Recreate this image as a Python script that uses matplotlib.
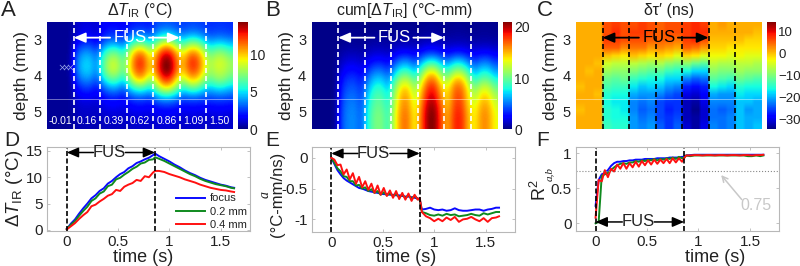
import matplotlib
matplotlib.use('Agg')
import matplotlib.pyplot as plt
import numpy as np

plt.rcParams['font.family'] = ['Liberation Sans', 'DejaVu Sans']
plt.rcParams['mathtext.fontset'] = 'custom'
plt.rcParams['mathtext.rm'] = 'Liberation Sans'
plt.rcParams['mathtext.it'] = 'Liberation Sans:italic'
plt.rcParams['mathtext.default'] = 'rm'

W, H = 800, 266
DARK = '#222222'
EDGE = '#b8b8b8'

# frame times printed on panel A
frame_labels = ['-0.01', '0.16', '0.39', '0.62', '0.86', '1.09', '1.50']

# panel A, one row per depth, one value per frame (edge of frame / centre of frame)
a_edge = [
    [.3, 1.0, 1.6, 2.0, 2.8, 2.6, 2.4],
    [.3, 1.1, 2.1, 3.0, 4.0, 3.4, 2.8],
    [.3, 1.8, 3.2, 5.5, 7.0, 6.0, 4.5],
    [.3, 3.0, 5.5, 8.5, 10.5, 9.0, 6.5],
    [.3, 3.6, 6.5, 9.5, 11.5, 10.0, 7.8],
    [.3, 3.6, 6.5, 9.5, 11.5, 9.8, 7.6],
    [.3, 2.8, 5.0, 7.5, 9.5, 8.0, 6.5],
    [.3, 1.8, 3.0, 4.8, 7.0, 5.2, 4.4],
    [.3, 1.2, 1.8, 2.6, 3.8, 2.9, 2.8],
    [.3, .9, 1.3, 1.6, 2.0, 1.7, 1.7],
    [.3, .8, 1.0, 1.1, 1.3, 1.1, 1.1],
    [.3, .6, .8, .9, 1.0, .9, .9],
]
a_centre = [
    [.3, 1.2, 1.8, 2.2, 3.0, 2.8, 2.5],
    [.3, 1.5, 2.5, 3.5, 5.0, 4.0, 3.0],
    [.3, 2.5, 4.0, 7.0, 9.0, 7.5, 5.0],
    [.3, 4.0, 7.0, 11.0, 13.0, 11.0, 7.5],
    [.3, 4.8, 8.5, 12.5, 14.5, 12.5, 8.8],
    [.3, 4.8, 8.5, 12.0, 14.5, 12.0, 8.5],
    [.3, 3.8, 6.5, 10.0, 12.5, 10.0, 7.5],
    [.3, 2.5, 4.0, 6.0, 9.0, 6.5, 5.0],
    [.3, 1.5, 2.2, 3.0, 4.5, 3.2, 3.0],
    [.3, 1.0, 1.5, 1.8, 2.2, 1.8, 1.8],
    [.3, .9, 1.1, 1.2, 1.4, 1.2, 1.2],
    [.3, .7, .8, 1.0, 1.1, 1.0, 1.0],
]

# panel B
b_edge = [
    [.2, .2, .2, .3, .3, .3, .3],
    [.2, .3, .3, .4, .5, .5, .4],
    [.2, .4, .7, .9, 1.2, 1.1, .9],
    [.2, .8, 1.2, 1.9, 2.8, 2.4, 2.0],
    [.2, 1.4, 2.3, 4.0, 6.0, 5.2, 3.8],
    [.2, 2.1, 3.8, 6.5, 9.5, 8.5, 5.8],
    [.2, 2.9, 5.3, 9.0, 12.5, 11.5, 8.0],
    [.2, 3.5, 6.6, 11.0, 14.5, 13.5, 10.3],
    [.2, 3.9, 7.4, 12.0, 15.5, 14.0, 11.8],
    [.2, 4.2, 8.0, 12.5, 16.5, 14.5, 12.8],
    [.2, 4.4, 8.4, 13.0, 17.0, 15.0, 13.3],
    [.2, 4.4, 8.4, 13.0, 17.0, 15.0, 13.3],
]
b_centre = [
    [.2, .2, .2, .3, .4, .4, .4],
    [.2, .3, .4, .5, .6, .6, .5],
    [.2, .5, .8, 1.0, 1.5, 1.2, 1.0],
    [.2, 1.0, 1.5, 2.5, 3.5, 3.0, 2.5],
    [.2, 1.8, 3.0, 5.5, 8.0, 7.0, 5.0],
    [.2, 2.8, 5.0, 8.5, 13.0, 11.0, 7.5],
    [.2, 3.8, 7.0, 12.0, 16.5, 15.0, 10.0],
    [.2, 4.5, 8.5, 14.5, 18.5, 17.0, 13.0],
    [.2, 5.0, 9.5, 15.5, 19.5, 17.5, 14.5],
    [.2, 5.3, 10.0, 16.0, 20.5, 18.0, 15.5],
    [.2, 5.5, 10.5, 16.5, 21.0, 18.5, 16.0],
    [.2, 5.5, 10.5, 16.5, 21.0, 18.5, 16.0],
]

# panel C, three values per frame
c_map = [
    [1, 1, 1, 6, 7, 6, 6, 7, 6, 5, 6, 6, 7, 8, 7, 1, 2, 1, 1, 1, 1],
    [1, 1, 1, 6, 8, 6, 7, 7, 6, 5, 6, 6, 7, 8, 8, 1, 1, 1, 1, 1, 0],
    [1, 1, 1, 7, 7, 6, 6, 6, 5, 5, 5, 4, 7, 8, 6, 0, 0, 0, 0, -1, -1],
    [1, 1, 1, 5, 5, 3, 4, 4, 2, 3, 2, 1, 5, 4, 2, -1, -1, -2, -2, -2, -2],
    [1, 1, 1, 0, -1, -2, 0, -1, -2, -1, -2, -4, -1, -2, -4, -3, -3, -4, -3, -4, -4],
    [1, 1, 0, -5, -6, -6, -6, -7, -8, -7, -9, -10, -9, -11, -12, -6, -7, -7, -6, -6, -7],
    [1, 0, 1, -8, -9, -9, -10, -11, -12, -12, -14, -15, -16, -18, -18, -9, -10, -10, -8, -9, -9],
    [1, 1, 1, -11, -12, -11, -14, -15, -16, -16, -18, -18, -22, -24, -23, -12, -13, -14, -11, -12, -13],
    [0, 1, 1, -13, -14, -14, -17, -19, -18, -19, -21, -22, -27, -28, -27, -16, -17, -18, -15, -16, -16],
    [1, 1, 0, -15, -16, -16, -20, -21, -21, -22, -24, -25, -30, -31, -29, -20, -21, -21, -17, -18, -18],
    [1, 1, 1, -16, -17, -17, -22, -23, -22, -25, -26, -26, -32, -33, -30, -22, -22, -22, -19, -19, -20],
    [0, 1, 1, -15, -16, -17, -22, -24, -23, -25, -27, -26, -32, -34, -31, -23, -24, -23, -19, -21, -20],
    [1, 1, 1, -15, -16, -16, -21, -23, -22, -25, -26, -25, -32, -33, -31, -23, -23, -22, -19, -20, -20],
    [1, 1, 1, -14, -15, -15, -21, -22, -21, -24, -26, -24, -31, -33, -30, -22, -23, -22, -19, -20, -19],
]

# panel D
t_d = [0, .04, .08, .12, .16, .2, .24, .28, .32, .36, .4, .44, .48, .52, .56, .6, .64, .68, .72, .76, .8, .84,
       .86, .9, .95, 1, 1.05, 1.1, 1.15, 1.2, 1.25, 1.3, 1.35, 1.4, 1.45, 1.5, 1.55, 1.6, 1.63]
d_focus = [.2, 1.2, 2.0, 3.1, 4.1, 5.0, 6.0, 6.6, 7.4, 7.9, 8.8, 9.3, 10.0, 10.6, 11.0, 11.7, 12.1, 12.7, 13.0, 13.4, 13.7, 14.2,
           14.5, 14.0, 13.5, 13.0, 12.4, 11.9, 11.3, 10.8, 10.4, 9.9, 9.5, 9.2, 8.9, 8.6, 8.4, 8.1, 8.0]
d_02 = [.2, 1.0, 1.7, 2.7, 3.6, 4.4, 5.5, 6.0, 6.9, 7.3, 8.3, 8.6, 9.6, 9.9, 10.5, 11.0, 11.6, 12.0, 12.6, 12.8, 13.3, 13.4,
        13.8, 13.5, 13.1, 12.6, 12.1, 11.6, 11.1, 10.6, 10.2, 9.7, 9.3, 9.0, 8.7, 8.5, 8.3, 8.0, 7.9]
d_04 = [.1, .7, 1.3, 2.1, 2.8, 3.4, 4.5, 4.8, 5.4, 5.9, 6.5, 6.8, 7.6, 7.4, 8.2, 8.6, 8.9, 9.5, 9.3, 10.2, 10.0, 10.9,
        11.2, 11.2, 11.0, 10.6, 10.3, 10.0, 9.6, 9.3, 9.0, 8.6, 8.3, 8.0, 7.8, 7.6, 7.5, 7.3, 7.2]

# panels E and F share their time points
t_e = [0, .03, .06, .09, .12, .15, .18, .21, .24, .27, .3, .33, .36, .39, .42, .45, .48, .51, .54, .57, .6, .63, .66, .69,
       .72, .75, .78, .81, .84, .86, .88, .92, .96, 1, 1.04, 1.08, 1.12, 1.16, 1.2, 1.24, 1.28, 1.32, 1.36, 1.4, 1.44,
       1.48, 1.52, 1.56, 1.6, 1.63]
e_focus = [0, -.1, -.2, -.27, -.33, -.37, -.4, -.43, -.46, -.49, -.5, -.52, -.54, -.55, -.56, -.57, -.58, -.59, -.59, -.6,
           -.6, -.61, -.61, -.62, -.63, -.63, -.64, -.65, -.66, -.68,
           -.84, -.83, -.81, -.84, -.85, -.84, -.86, -.85, -.82, -.85, -.86, -.86, -.85, -.84, -.84, -.86, -.84, -.83, -.81, -.81]
e_02 = [0, -.08, -.17, -.22, -.3, -.31, -.38, -.38, -.45, -.44, -.5, -.48, -.54, -.51, -.57, -.54, -.6, -.56, -.61, -.58,
        -.62, -.59, -.64, -.6, -.65, -.61, -.66, -.62, -.67, -.68,
        -.88, -.9, -.93, -.94, -.92, -.94, -.91, -.93, -.92, -.95, -.94, -.93, -.91, -.93, -.94, -.9, -.92, -.9, -.88, -.88]
e_04 = [0, -.03, -.12, -.11, -.27, -.19, -.35, -.25, -.42, -.31, -.48, -.38, -.52, -.42, -.57, -.45, -.6, -.49, -.62, -.53,
        -.65, -.54, -.67, -.57, -.68, -.58, -.7, -.6, -.68, -.65,
        -.88, -.95, -.98, -1.03, -.99, -1.03, -.97, -1.01, -.96, -1.04, -1.0, -.99, -.96, -1.0, -1.03, -.98, -1.04, -.98, -.97, -.95]
f_focus = [.25, .62, .7, .72, .76, .82, .86, .88, .88, .89, .89, .9, .9, .91, .91, .91, .92, .92, .92, .92, .93, .93, .93, .93,
           .94, .94, .94, .94, .95, .95,
           .97, .975, .98, .98, .98, .98, .98, .98, .98, .98, .98, .98, .98, .98, .98, .98, .98, .98, .98, .98]
f_02 = [0, .02, .68, .7, .72, .76, .8, .83, .85, .86, .85, .87, .87, .89, .88, .9, .89, .91, .9, .92, .9, .92, .91, .93,
        .92, .94, .92, .95, .93, .94,
        .97, .96, .97, .97, .97, .97, .97, .97, .97, .97, .97, .97, .97, .97, .97, .96, .96, .97, .96, .97]
f_04 = [.08, .62, .6, .76, .66, .78, .74, .84, .78, .86, .78, .86, .8, .88, .81, .89, .83, .9, .84, .91, .85, .91, .86, .92,
        .86, .93, .87, .93, .88, .93,
        .97, .97, .975, .975, .97, .975, .975, .97, .975, .975, .97, .975, .975, .97, .975, .975, .97, .975, .975, .98]

fus_end = .86
legend_labels = ['focus', '0.2 mm', '0.4 mm']
line_colors = ['#0a0aff', '#0f8a1e', '#ff1010']
head = '-|>,head_width=.3,head_length=.7'


def px_axes(x0, y0, x1, y1):
    return fig.add_axes([x0 / W, 1 - y1 / H, (x1 - x0) / W, (y1 - y0) / H])


def frames(edge, centre):
    edge = np.array(edge)
    centre = np.array(centre)
    return np.stack([edge, centre, centre, edge], axis=2).reshape(len(edge), -1)


def heat_panel(box, cbox, data, vmin, vmax, cticks, dash, title, letter, lx, interp='bicubic', csize=10):
    ax = px_axes(*box)
    im = ax.imshow(data, cmap='jet', vmin=vmin, vmax=vmax, aspect='auto', extent=[0, 7, 5.49, 2.52], interpolation=interp)
    for k in range(1, 7):
        ax.axvline(k, color=dash, lw=1.2, ls=(0, (3, 1.8)))
    ax.axhline(4.65, color='white', lw=.5, alpha=.6)
    ax.set_xticks([])
    ax.set_yticks([3, 4, 5])
    ax.tick_params(length=0, labelsize=10.5, pad=4, labelcolor=DARK)
    ax.set_ylabel('depth (mm)', fontsize=12.5, color=DARK, labelpad=3)
    for s in ax.spines.values():
        s.set_visible(False)
    ax.annotate('', xy=(1, 2.96), xytext=(2.37, 2.96), arrowprops=dict(arrowstyle=head, color=dash, lw=1.3, shrinkA=0, shrinkB=0))
    ax.annotate('', xy=(5, 2.96), xytext=(3.84, 2.96), arrowprops=dict(arrowstyle=head, color=dash, lw=1.3, shrinkA=0, shrinkB=0))
    ax.text(3.12, 2.96, 'FUS', color=dash, fontsize=12, ha='center', va='center')
    cax = px_axes(*cbox)
    cb = fig.colorbar(im, cax=cax)
    cb.set_ticks(cticks)
    cb.outline.set_visible(False)
    cax.tick_params(length=0, labelsize=csize, pad=1.5, labelcolor=DARK)
    fig.text((box[0] + box[2]) / 2 / W, 1 - 11 / H, title, fontsize=11.5, ha='center', va='center', color=DARK)
    fig.text(lx / W, 1 - 11 / H, letter, fontsize=16, ha='center', va='center', color=DARK)
    return ax


def line_panel(box, t, series, xlim, ylim, yticks, yticklabels, xlabel_x, letter, lx, fus_y):
    ax = px_axes(*box)
    for vals, col in zip(series, line_colors):
        ax.plot(t, vals, color=col, lw=1.4)
    ax.axvline(0, color='black', lw=1.2, ls=(0, (3, 1.5)))
    ax.axvline(fus_end, color='black', lw=1.2, ls=(0, (3, 1.5)))
    ax.set_xlim(xlim)
    ax.set_ylim(ylim)
    ax.set_xticks([0, .5, 1, 1.5])
    ax.set_xticklabels(['0', '0.5', '1', '1.5'])
    ax.set_yticks(yticks)
    ax.set_yticklabels(yticklabels)
    ax.tick_params(direction='in', length=2, width=.6, color=EDGE, labelsize=11, pad=3, labelcolor=DARK, top=True, right=True)
    for s in ax.spines.values():
        s.set_color(EDGE)
        s.set_linewidth(.8)
    ax.annotate('', xy=(0, fus_y), xytext=(.26, fus_y), arrowprops=dict(arrowstyle=head, color='black', lw=1.1, shrinkA=0, shrinkB=0))
    ax.annotate('', xy=(fus_end, fus_y), xytext=(.57, fus_y), arrowprops=dict(arrowstyle=head, color='black', lw=1.1, shrinkA=0, shrinkB=0))
    ax.text(.41, fus_y, 'FUS', fontsize=12, ha='center', va='center', color=DARK)
    fig.text(xlabel_x / W, 1 - 257 / H, 'time (s)', fontsize=13, ha='center', va='center', color=DARK)
    fig.text(lx / W, 1 - 140 / H, letter, fontsize=15, ha='center', va='center', color=DARK)
    return ax


fig = plt.figure(figsize=(8, 2.66), dpi=100)

ax_a = heat_panel((47.3, 21.7, 232.7, 129.3), (237.7, 21.7, 247.7, 129.3), frames(a_edge, a_centre), 0, 14.4, [0, 5, 10], 'white',
                  r'$\Delta\mathit{T}_{\mathrm{IR}}$ (°C)', 'A', 8)
for k, lab in enumerate(frame_labels):
    ax_a.text(k + .5, 5.25, lab, color='white', fontsize=7.5, ha='center', va='center')
ax_a.scatter([.55, .7, .85], [3.76, 3.76, 3.76], marker='x', s=14, color='#9aa8e8', linewidths=.5)

heat_panel((311.7, 21.7, 497, 129.3), (502.7, 21.7, 512, 129.3), frames(b_edge, b_centre), 0, 21, [0, 10, 20], 'white',
           r'cum[$\Delta\mathit{T}_{\mathrm{IR}}$] (°C-mm)', 'B', 273)
heat_panel((576, 21.7, 761.7, 129.3), (766.7, 21.7, 776, 129.3), np.repeat(np.array(c_map), 3, axis=1), -34.6, 14.6, [-30, -20, -10, 0, 10], 'black',
           'δτ′ (ns)', 'C', 545, interp='bilinear', csize=9.5)

ax_d = line_panel((47.3, 146.7, 250, 231), t_d, [d_focus, d_02, d_04], (-.19, 1.785), (-.2, 15.8), [0, 5, 10, 15], ['0', '5', '10', '15'], 143, 'D', 12, 14.7)
ax_d.set_ylabel(r'$\Delta\mathit{T}_{\mathrm{IR}}$ (°C)', fontsize=13.5, color=DARK, labelpad=1)
ax_d.legend(ax_d.lines[:3], legend_labels, frameon=False, fontsize=8, loc='lower right', bbox_to_anchor=(.985, .01),
            labelspacing=.3, handlelength=2.6, handletextpad=.45, borderaxespad=0, borderpad=0, labelcolor=DARK)

ax_e = line_panel((311.7, 146.7, 515, 231.7), t_e, [e_focus, e_02, e_04], (-.19, 1.785), (-1.2, .18), [-1, -.5, 0], ['-1', '-0.5', '0'], 406, 'E', 272, .07)
fig.text(278 / W, 1 - 194 / H, '(°C-mm/ns)', rotation=90, fontsize=12, ha='center', va='center', color=DARK)
fig.text(265 / W, 1 - 194 / H, 'a', rotation=90, fontsize=10, style='italic', family='Liberation Serif', ha='center', va='center', color=DARK)

ax_f = line_panel((576, 146.7, 779.3, 230.7), t_e, [f_focus, f_02, f_04], (-.19, 1.785), (-.105, 1.095), [0, .5, 1], ['0', '0.5', '1'], 715, 'F', 543, .02)
ax_f.axhline(.75, color='#888888', lw=.8, ls=':')
ax_f.annotate('', xy=(1.22, .69), xytext=(1.42, .34), arrowprops=dict(arrowstyle='->', color='#c8c8c8', lw=1.1, shrinkA=0, shrinkB=0))
ax_f.text(1.56, .25, '0.75', fontsize=11.5, color='#c8c8c8', ha='center', va='center')
fig.text(540 / W, 1 - 190 / H, 'R$^2$', rotation=90, fontsize=13, ha='center', va='center', color=DARK)
fig.text(549 / W, 1 - 174 / H, 'a,b', rotation=90, fontsize=8, style='italic', family='Liberation Serif', ha='center', va='center', color=DARK)

fig.savefig('out.png', dpi=100)
